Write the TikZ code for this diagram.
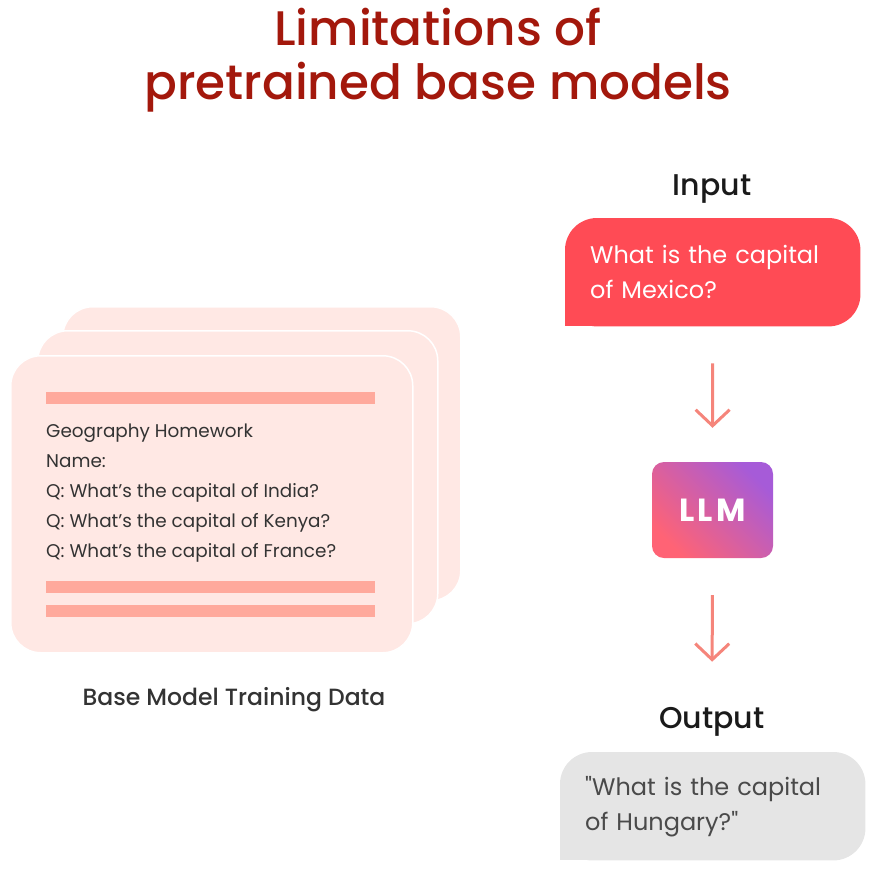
\documentclass[tikz,border=0pt]{standalone}
\usepackage{fontspec}
\setmainfont{Poppins}
\newfontfamily\mediumfont{Poppins Medium}
\usetikzlibrary{arrows.meta,positioning,backgrounds}
\definecolor{titlered}{HTML}{A3180C}
\definecolor{inred}{HTML}{FF4B55}
\definecolor{flowred}{HTML}{F5857B}
\definecolor{llmcoral}{HTML}{FF6375}
\definecolor{llmpurple}{HTML}{A65BD8}
\definecolor{cardpink}{HTML}{FFE8E4}
\definecolor{barpink}{HTML}{FFA99C}
\definecolor{outgray}{HTML}{E5E5E5}
\definecolor{ink}{HTML}{1A1A1A}
\definecolor{hwgray}{HTML}{333333}
\definecolor{outtext}{HTML}{4A4A4A}

\begin{document}
\begin{tikzpicture}[x=1pt,y=-1pt,
  card/.style={draw=white,line width=1.5pt,fill=cardpink,rounded corners=30pt,anchor=north west,inner sep=0pt},
  hw/.style={hwgray,anchor=base west,inner sep=0pt,font=\fontsize{18.4}{22}\selectfont},
  label/.style={ink,anchor=base,inner sep=0pt,font=\mediumfont\fontsize{30}{36}\selectfont},
  bubble/.style={anchor=north west,minimum height=108pt,inner xsep=25pt,align=left,font=\fontsize{24}{35}\selectfont},
  flow/.style={flowred,line width=3pt,-{Straight Barb[length=16pt,width=34pt]},shorten <=37pt,shorten >=34pt},
]
  \useasboundingbox (0,0) rectangle (878,871);

  % Title
  \node[titlered,anchor=base,font=\mediumfont\fontsize{48.5}{54}\selectfont] (title1) at (438,45) {Limitations of};
  \node[titlered,anchor=base,font=\mediumfont\fontsize{48.5}{54}\selectfont] (title2) at (438,99) {pretrained base models};

  % Left: stack of training documents
  \node[card,minimum width=398pt,minimum height=294pt] (card3) at (62,306) {};
  \node[card,minimum width=400pt,minimum height=293pt] (card2) at (37,330) {};
  \node[card,minimum width=402pt,minimum height=297pt] (card1) at (10,355) {};
  \foreach \y in {392,581,605} {
    \fill[barpink] (46,\y) rectangle (375,\y+12);
  }
  \foreach \t [count=\i] in {Geography Homework,Name:,Q: What's the capital of India?,Q: What's the capital of Kenya?,Q: What's the capital of France?} {
    \node[hw] (line\i) at (46,{437+30*(\i-1)}) {\t};
  }
  \node[hwgray,anchor=base,inner sep=0pt,font=\mediumfont\fontsize{23.5}{28}\selectfont] (data) at (234,705) {Base Model Training Data};

  % Right: input -> LLM -> output
  \node[label] (inlabel) at (712,195) {Input};
  \node[bubble,white,minimum width=295pt,text width=245pt] (inbox) at (565,218) {What is the capital\\of Mexico?};
  \node[rounded corners=12pt,minimum width=121pt,minimum height=96pt,white,
    bottom color=llmcoral,top color=llmpurple,shading angle=-45,
    font=\bfseries\addfontfeatures{LetterSpace=10}\fontsize{32}{38}\selectfont] (llm) at (712.5,510) {LLM};
  \node[label] (outlabel) at (712,728) {Output};
  \node[bubble,outtext,minimum width=305pt,text width=255pt] (outbox) at (560,752) {\textquotedbl What is the capital\\of Hungary?\textquotedbl};

  \begin{pgfonlayer}{background}
    \fill[inred,rounded corners=32pt] (inbox.south west) rectangle (inbox.north east);
    \fill[inred] (inbox.south west) rectangle ++(40,-40);
    \fill[outgray,rounded corners=32pt] (outbox.south west) rectangle (outbox.north east);
    \fill[outgray] (outbox.south west) rectangle ++(40,-40);
  \end{pgfonlayer}

  \draw[flow] (inbox.south) -- (llm.north);
  \draw[flow,shorten >=45pt] (llm.south) -- (outlabel.north);
\end{tikzpicture}
\end{document}
